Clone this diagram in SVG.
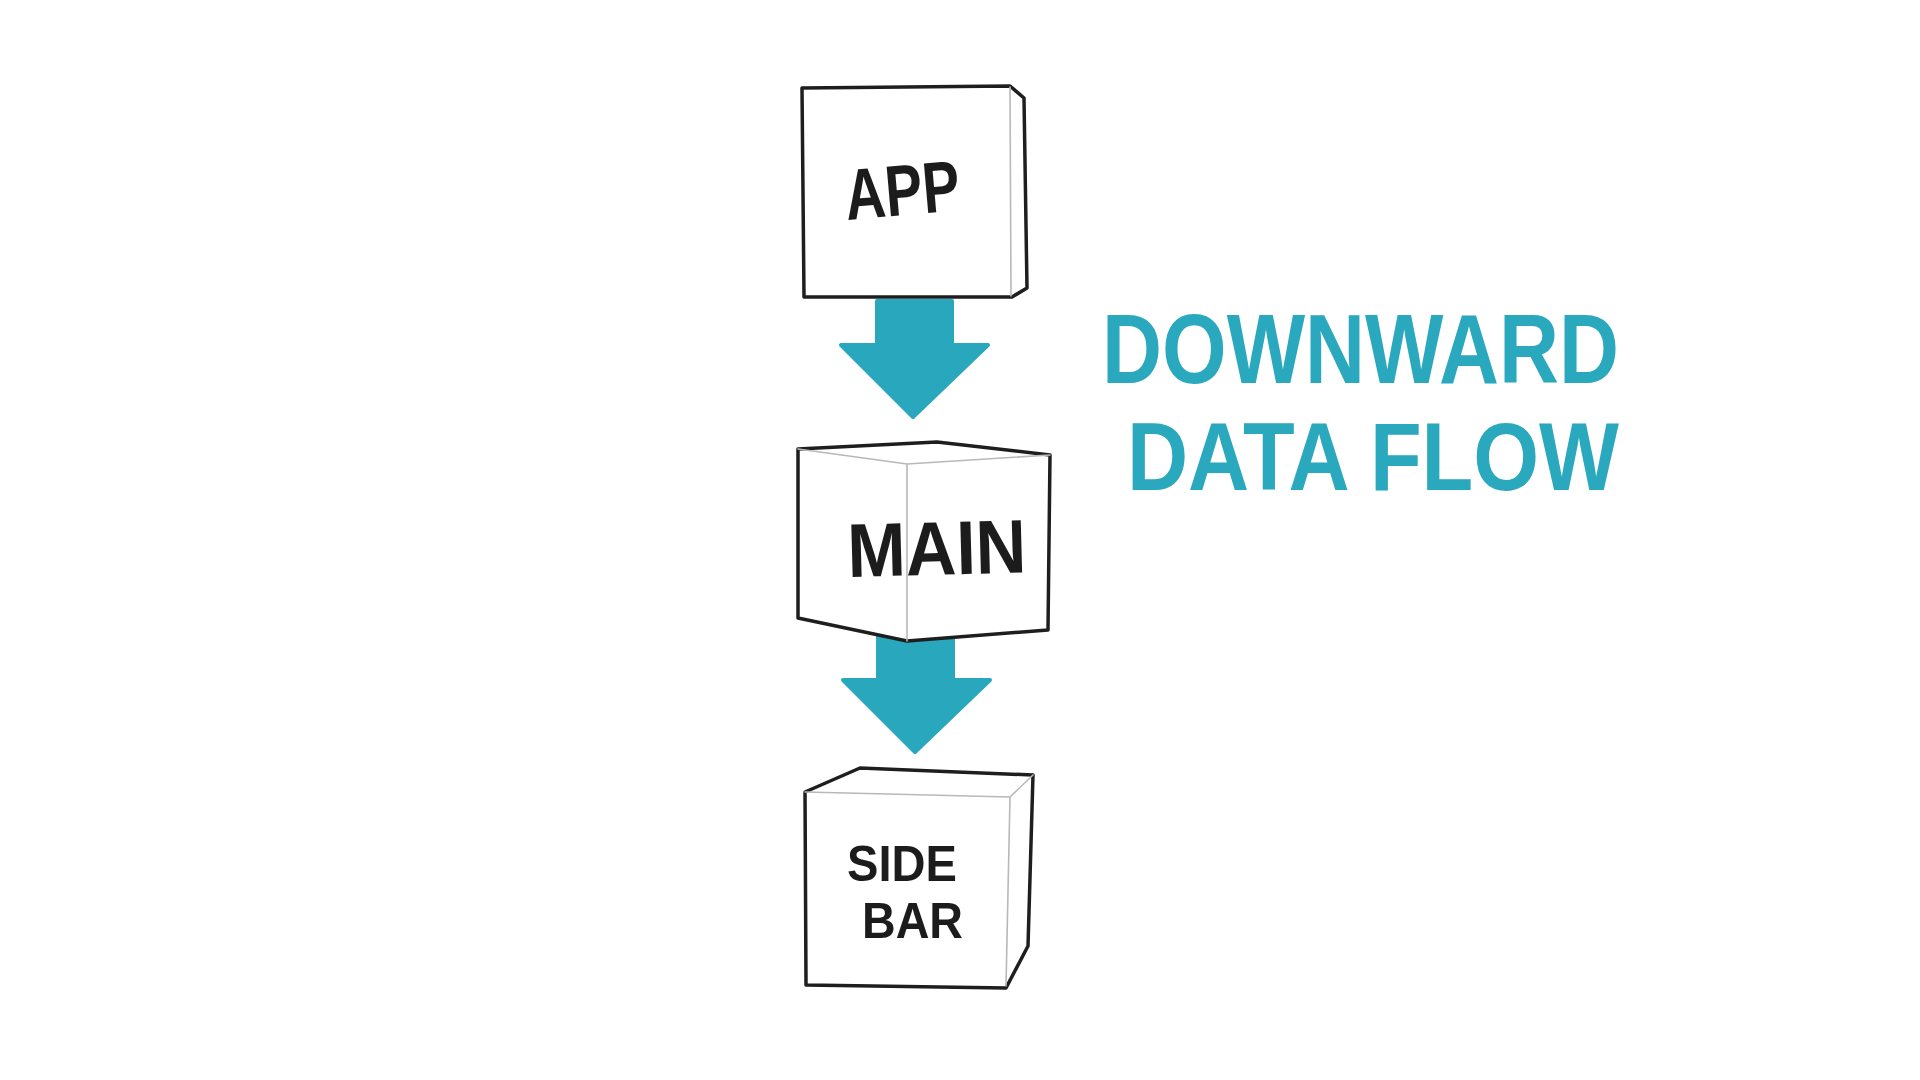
<svg xmlns="http://www.w3.org/2000/svg" width="1920" height="1080" viewBox="0 0 1920 1080">
<style>
.bg{fill:#ffffff}
.box{fill:#ffffff;stroke:#1e1e1e;stroke-width:3.5;stroke-linejoin:round;stroke-linecap:round}
.edge{fill:none;stroke:#b8b8b8;stroke-width:1.6;stroke-linecap:round}
.arrow{fill:#29a7bc;stroke:#29a7bc;stroke-width:4;stroke-linejoin:round}
.lbl{font-family:"Liberation Sans","Noto Sans",sans-serif;font-weight:700;fill:#1c1c1c}
.title{font-family:"Liberation Sans","Noto Sans",sans-serif;font-weight:700;fill:#2aa8bd}
</style>
<rect class="bg" x="0" y="0" width="1920" height="1080"/>
<g id="connectors">
  <path class="arrow" d="M877,301 L952,301 L952,345 L988,345 L913,417 L841,345 L877,345 Z"/>
  <path class="arrow" d="M878,630 L953,630 L953,680 L990,680 L915,752 L843,680 L878,680 Z"/>
</g>
<g id="app">
  <path class="box" d="M802,88 L1010,86 L1024,98 L1027,288 L1012,297 L804,297 Z"/>
  <path class="edge" d="M1010,87 L1011,296"/>
  <text class="lbl" x="847" y="220" font-size="72" textLength="115" lengthAdjust="spacingAndGlyphs" transform="rotate(-5 847 220)">APP</text>
</g>
<g id="main">
  <path class="box" d="M798,449 L937,442 L1050,455 L1048,630 L907,641 L798,618 Z"/>
  <path class="edge" d="M798,449 L907,464 L1050,455 M907,464 L907,641"/>
  <text class="lbl" x="848" y="577" font-size="76" textLength="179" lengthAdjust="spacingAndGlyphs" transform="rotate(-1.5 848 577)">MAIN</text>
</g>
<g id="sidebar">
  <path class="box" d="M805,792 L860,768 L1033,775 L1028,946 L1006,988 L806,985 Z"/>
  <path class="edge" d="M805,792 L1010,797 L1033,775 M1010,797 L1006,986"/>
  <text class="lbl" x="847" y="881" font-size="50" textLength="110" lengthAdjust="spacingAndGlyphs">SIDE</text>
  <text class="lbl" x="862" y="938" font-size="50" textLength="101" lengthAdjust="spacingAndGlyphs">BAR</text>
</g>
<g id="title">
  <text class="title" x="1102" y="383" font-size="98" textLength="517" lengthAdjust="spacingAndGlyphs">DOWNWARD</text>
  <text class="title" x="1127" y="490" font-size="96" textLength="492" lengthAdjust="spacingAndGlyphs">DATA FLOW</text>
</g>
</svg>
